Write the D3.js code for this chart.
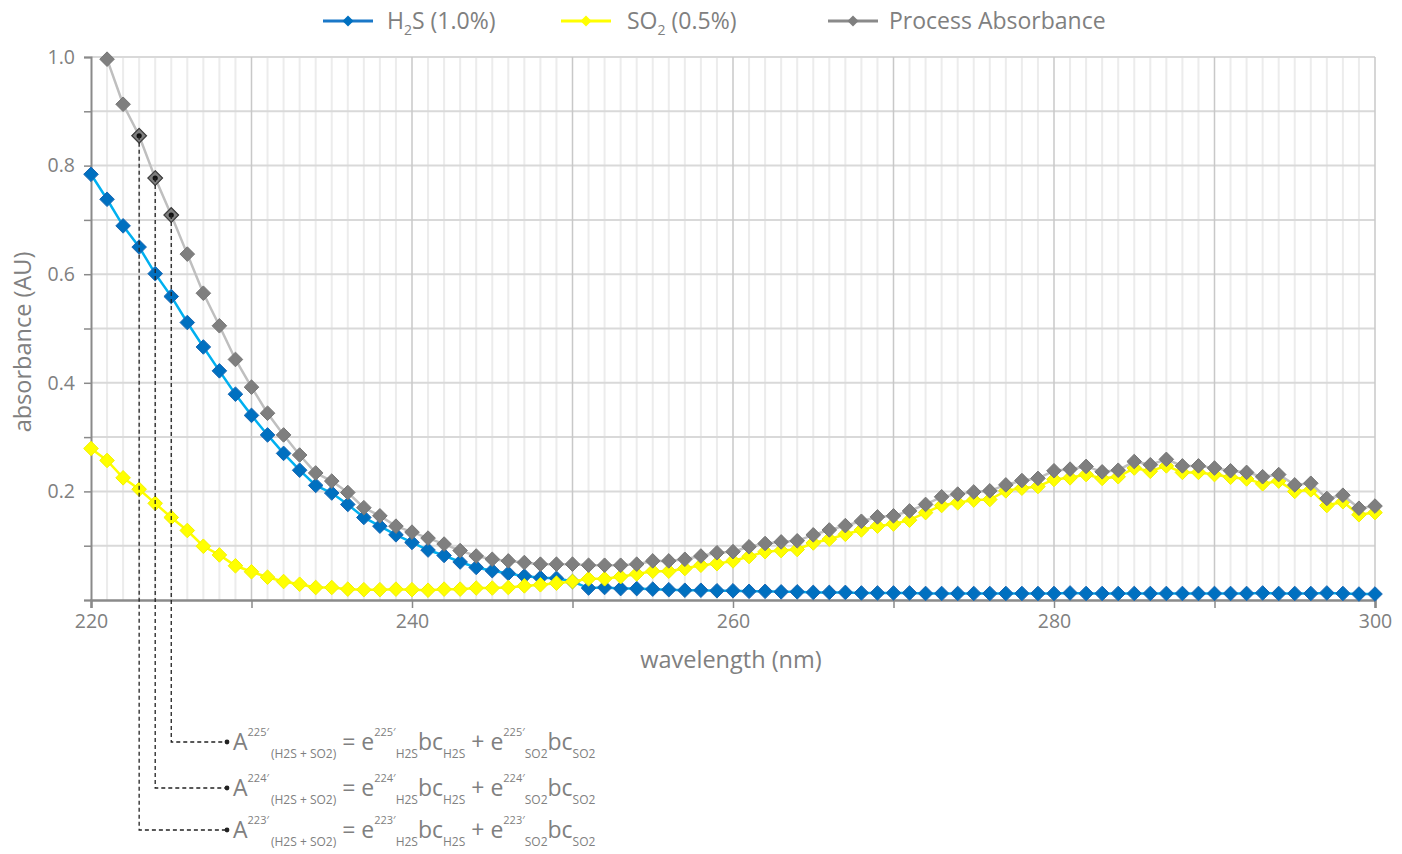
<!DOCTYPE html>
<html><head><meta charset="utf-8">
<script src="https://cdn.jsdelivr.net/npm/d3@7"></script>
<style>body{margin:0;background:#fff} svg{display:block} text{font-family:"Open Sans",sans-serif}</style>
</head><body><svg id="c" width="1402" height="854"></svg>
<script>
const wavelength = [220,221,222,223,224,225,226,227,228,229,230,231,232,233,234,235,236,237,238,239,240,241,242,243,244,245,246,247,248,249,250,251,252,253,254,255,256,257,258,259,260,261,262,263,264,265,266,267,268,269,270,271,272,273,274,275,276,277,278,279,280,281,282,283,284,285,286,287,288,289,290,291,292,293,294,295,296,297,298,299,300];
const h2s = [0.784,0.738,0.689,0.650,0.601,0.559,0.511,0.466,0.422,0.379,0.340,0.304,0.270,0.239,0.211,0.197,0.176,0.152,0.136,0.120,0.106,0.092,0.082,0.070,0.060,0.054,0.049,0.044,0.041,0.040,0.034,0.022,0.023,0.021,0.021,0.020,0.019,0.018,0.018,0.017,0.017,0.016,0.016,0.015,0.015,0.014,0.014,0.014,0.013,0.013,0.013,0.013,0.012,0.012,0.012,0.012,0.012,0.012,0.012,0.012,0.012,0.013,0.012,0.012,0.012,0.012,0.012,0.012,0.012,0.012,0.012,0.012,0.012,0.013,0.012,0.012,0.012,0.013,0.012,0.011,0.011];
const so2 = [0.279,0.257,0.225,0.204,0.178,0.152,0.128,0.099,0.083,0.063,0.052,0.042,0.034,0.029,0.023,0.023,0.020,0.019,0.019,0.020,0.019,0.018,0.020,0.020,0.022,0.022,0.023,0.026,0.028,0.031,0.034,0.039,0.039,0.043,0.048,0.053,0.053,0.058,0.064,0.067,0.072,0.080,0.089,0.091,0.093,0.105,0.112,0.121,0.129,0.136,0.140,0.147,0.161,0.174,0.179,0.184,0.185,0.201,0.206,0.209,0.222,0.225,0.231,0.224,0.227,0.243,0.237,0.247,0.235,0.235,0.231,0.226,0.223,0.214,0.219,0.200,0.203,0.174,0.181,0.157,0.161];
const processAbs = [null,0.996,0.913,0.855,0.777,0.709,0.637,0.565,0.505,0.443,0.392,0.344,0.304,0.267,0.234,0.219,0.198,0.170,0.155,0.136,0.125,0.114,0.103,0.091,0.081,0.075,0.072,0.069,0.066,0.066,0.066,0.064,0.064,0.064,0.066,0.072,0.072,0.075,0.081,0.087,0.089,0.098,0.104,0.107,0.109,0.120,0.129,0.137,0.145,0.153,0.155,0.164,0.176,0.190,0.195,0.199,0.201,0.212,0.220,0.224,0.238,0.241,0.246,0.236,0.239,0.255,0.249,0.259,0.247,0.247,0.243,0.238,0.235,0.227,0.231,0.212,0.215,0.187,0.193,0.169,0.173];
const xTickLabels = [220,240,260,280,300];
const xTickMarks = [220,230,240,250,260,270,280,290,300];
const yTickLabels = [0.2,0.4,0.6,0.8,1.0];
const yTickMarks = [0,0.1,0.2,0.3,0.4,0.5,0.6,0.7,0.8,0.9,1.0];
const annotatedWl = [225,224,223];
const annotationRowY = [742,788,830];

const svg = d3.select("#c");
svg.append("rect").attr("width",1402).attr("height",854).attr("fill","#fff");
const x = d3.scaleLinear().domain([220,300]).range([91,1375]);
const y = d3.scaleLinear().domain([0,1]).range([600,57]);
const textCol = "#808080";

// minor vertical grid
const minor = wavelength.filter(w => w % 10 !== 0);
svg.append("g").selectAll("line").data(minor).join("line")
  .attr("x1",d=>x(d)).attr("x2",d=>x(d)).attr("y1",y(1)).attr("y2",y(0))
  .attr("stroke","#ececec").attr("stroke-width",2);
// horizontal grid
svg.append("g").selectAll("line").data(yTickMarks.filter(v=>v>0)).join("line")
  .attr("x1",x(220)).attr("x2",x(300)).attr("y1",d=>y(d)).attr("y2",d=>y(d))
  .attr("stroke","#d9d9d9").attr("stroke-width",2);
// major vertical grid
svg.append("g").selectAll("line").data(xTickMarks.filter(v=>v>220)).join("line")
  .attr("x1",d=>x(d)).attr("x2",d=>x(d)).attr("y1",y(1)).attr("y2",y(0))
  .attr("stroke","#c8c8c8").attr("stroke-width",1.5);

// axes
const yAxis = d3.axisLeft(y).tickValues(yTickMarks).tickSize(7)
  .tickFormat(d => yTickLabels.some(v=>Math.abs(v-d)<1e-9) ? d3.format(".1f")(d) : "");
const gy = svg.append("g").attr("transform",`translate(${x(220)},0)`).call(yAxis);
gy.select(".domain").attr("stroke","#8a8a8a").attr("stroke-width",2);
gy.selectAll(".tick line").attr("stroke","#8a8a8a").attr("stroke-width",1.5);
gy.selectAll(".tick text").attr("fill",textCol).attr("font-size",19.5).attr("font-family","Open Sans").attr("x",-16);

const xAxis = d3.axisBottom(x).tickValues(xTickMarks).tickSize(8)
  .tickFormat(d => xTickLabels.includes(d) ? d : "");
const gx = svg.append("g").attr("transform",`translate(0,${y(0)})`).call(xAxis);
gx.select(".domain").attr("stroke","#8a8a8a").attr("stroke-width",2.5);
gx.selectAll(".tick line").attr("stroke","#8a8a8a").attr("stroke-width",1.5);
gx.selectAll(".tick text").attr("fill",textCol).attr("font-size",19.5).attr("font-family","Open Sans").attr("y",14);

// axis titles
svg.append("text").attr("x",731).attr("y",668).attr("text-anchor","middle")
  .attr("fill",textCol).attr("font-size",23.5).text("wavelength (nm)");
svg.append("text").attr("transform","translate(31,342) rotate(-90)").attr("text-anchor","middle")
  .attr("fill",textCol).attr("font-size",23.5).text("absorbance (AU)");

const diamond = r => `M0,${-r}L${r},0L0,${r}L${-r},0Z`;
const series = [
  {vals:h2s, line:"#00b0f0", fill:"#0070c0", stroke:"#1a68b3"},
  {vals:so2, line:"#ffff00", fill:"#ffff00", stroke:"#f2f200"},
  {vals:processAbs, line:"#bfbfbf", fill:"#7f7f7f", stroke:"#777"}
];
series.forEach(s => {
  const pts = wavelength.map((w,i)=>({w, v:s.vals[i]})).filter(p=>p.v!==null);
  svg.append("path").datum(pts)
    .attr("d", d3.line().x(p=>x(p.w)).y(p=>y(p.v)))
    .attr("fill","none").attr("stroke",s.line).attr("stroke-width",2.5);
  svg.append("g").selectAll("path").data(pts).join("path")
    .attr("transform",p=>`translate(${x(p.w)},${y(p.v)})`)
    .attr("d",diamond(7.3)).attr("fill",s.fill).attr("stroke",s.stroke).attr("stroke-width",1);
});

// annotations
const ann = svg.append("g");
annotatedWl.forEach((w,k) => {
  const i = wavelength.indexOf(w);
  const px = x(w), py = y(processAbs[i]);
  const ry = annotationRowY[k];
  ann.append("path").attr("transform",`translate(${px},${py})`).attr("d",diamond(7.3))
    .attr("fill","#7f7f7f").attr("stroke","#404040").attr("stroke-width",1.2);
  ann.append("circle").attr("cx",px).attr("cy",py).attr("r",2.6).attr("fill","#111");
  ann.append("path").attr("d",`M${px},${py}V${ry}H226`)
    .attr("fill","none").attr("stroke","#222").attr("stroke-width",1.3).attr("stroke-dasharray","4,3");
  ann.append("circle").attr("cx",227).attr("cy",ry).attr("r",2.4).attr("fill","#222");
  const lam = w + "\u2032";
  const parts = [["A","n"],[lam,"sup"],["(H2S + SO2)","sub"],[" = e","n"],[lam,"sup"],["H2S","sub"],["bc","n"],["H2S","sub"],[" + e","n"],[lam,"sup"],["SO2","sub"],["bc","n"],["SO2","sub"]];
  const off = {n:0, sup:-14, sub:8};
  const size = {n:23, sup:11, sub:12};
  const t = ann.append("text").attr("x",233).attr("y",ry+8).attr("fill",textCol);
  let cur = 0;
  parts.forEach(([txt,kind],j) => {
    const ts = t.append("tspan").attr("font-size",size[kind]).attr("dy",off[kind]-cur).text(txt);
    if (j===2) ts.attr("dx",2);
    cur = off[kind];
  });
});

// legend
const legend = [
  {label:["H","2","S (1.0%)"], x0:323, line:"#1a78c8", fill:"#0070c0", tx:387},
  {label:["SO","2"," (0.5%)"], x0:561, line:"#ffff00", fill:"#ffff00", tx:627},
  {label:["Process Absorbance"], x0:828, line:"#8a8a8a", fill:"#7f7f7f", tx:889}
];
legend.forEach(l => {
  svg.append("line").attr("x1",l.x0).attr("x2",l.x0+50).attr("y1",21).attr("y2",21)
    .attr("stroke",l.line).attr("stroke-width",3);
  svg.append("path").attr("transform",`translate(${l.x0+25},21)`).attr("d",diamond(5.5)).attr("fill",l.fill);
  const t = svg.append("text").attr("x",l.tx).attr("y",29).attr("fill",textCol).attr("font-size",23);
  t.append("tspan").text(l.label[0]);
  if (l.label.length>1) {
    t.append("tspan").attr("font-size",14).attr("dy",6).text(l.label[1]);
    t.append("tspan").attr("dy",-6).text(l.label[2]);
  }
});
</script></body></html>
